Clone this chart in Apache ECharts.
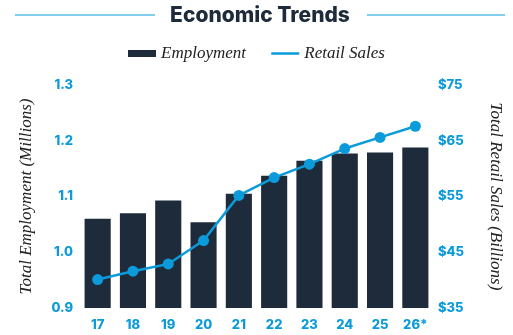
<!DOCTYPE html>
<html><head><meta charset="utf-8">
<script src="https://cdn.jsdelivr.net/npm/echarts@6/dist/echarts.min.js"></script>
<style>html,body{margin:0;padding:0;background:#fff}#c{width:513px;height:335px}</style>
</head><body><div id="c"></div>
<script>
const categories = ['17','18','19','20','21','22','23','24','25','26*'];
const employment = [1.06, 1.07, 1.093, 1.054, 1.105, 1.137, 1.164, 1.177, 1.179, 1.188];
const retailSales = [40.1, 41.6, 42.9, 47.1, 55.2, 58.4, 60.8, 63.6, 65.6, 67.6];
const leftTicks = ['0.9','1.0','1.1','1.2','1.3'];
const rightTicks = ['$35','$45','$55','$65','$75'];

const blue = '#0b9bda', navy = '#1e2b3a';
const chart = echarts.init(document.getElementById('c'));
const labelStyle = {color: blue, fontFamily: 'Inter, "Open Sans", sans-serif', fontWeight: 800, fontSize: 13};
const nameStyle = {fontFamily: '"Liberation Serif", serif', fontStyle: 'italic', fontSize: 17, color: '#222'};
chart.setOption({
  animation: false,
  graphic: [
    {type: 'line', shape: {x1: 15, y1: 15, x2: 155, y2: 15}, style: {stroke: blue, lineWidth: 1.2}},
    {type: 'line', shape: {x1: 367, y1: 15, x2: 505, y2: 15}, style: {stroke: blue, lineWidth: 1.2}},
    {type: 'text', x: 260, y: 16, style: {text: 'Economic Trends', fill: navy, font: '800 21px Inter, "Open Sans", sans-serif', textAlign: 'center', textVerticalAlign: 'middle'}}
  ],
  legend: {
    top: 40, left: 'center', itemGap: 24, itemWidth: 28, itemHeight: 7,
    textStyle: nameStyle,
    data: [{name: 'Employment', icon: 'rect'}, {name: 'Retail Sales', itemStyle: {opacity: 0}, lineStyle: {color: blue, width: 2.5, opacity: 1}}]
  },
  grid: {left: 80, right: 80, top: 85, bottom: 27},
  xAxis: {
    type: 'category', data: categories,
    axisLine: {show: false}, axisTick: {show: false},
    axisLabel: Object.assign({}, labelStyle, {margin: 11})
  },
  yAxis: [
    {type: 'value', min: 0.9, max: 1.3, interval: 0.1,
     name: 'Total Employment (Millions)', nameLocation: 'middle', nameGap: 45, nameRotate: 90,
     nameTextStyle: nameStyle,
     splitLine: {show: false}, axisLine: {show: false}, axisTick: {show: false},
     axisLabel: Object.assign({}, labelStyle, {margin: 7, formatter: (v, i) => leftTicks[i]})},
    {type: 'value', min: 35, max: 75, interval: 10,
     name: 'Total Retail Sales (Billions)', nameLocation: 'middle', nameGap: 54, nameRotate: -90,
     nameTextStyle: nameStyle,
     splitLine: {show: false}, axisLine: {show: false}, axisTick: {show: false},
     axisLabel: Object.assign({}, labelStyle, {margin: 5, formatter: (v, i) => rightTicks[i]})}
  ],
  series: [
    {name: 'Employment', type: 'bar', data: employment, barWidth: '74%', itemStyle: {color: navy}},
    {name: 'Retail Sales', type: 'line', yAxisIndex: 1, data: retailSales,
     symbol: 'circle', symbolSize: 11, lineStyle: {color: blue, width: 2.5}, itemStyle: {color: blue}}
  ]
});
</script></body></html>
